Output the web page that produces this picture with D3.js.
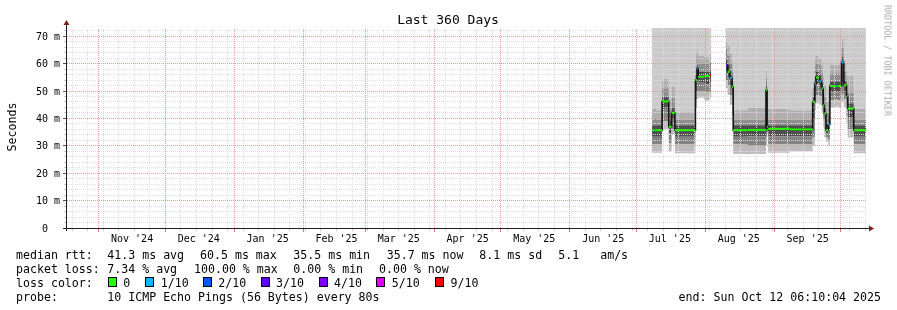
<!DOCTYPE html>
<html>
<head>
<meta charset="utf-8">
<script src="https://cdn.jsdelivr.net/npm/d3@7"></script>
<style>
  body { margin: 0; background: #fff; }
  svg { display: block; font-family: "DejaVu Sans Mono", monospace; }
  text { white-space: pre; }
</style>
</head>
<body>
<svg id="chart" width="897" height="310"></svg>
<script>
// ---- data ----
const titleText = "Last 360 Days";
const yAxisTitle = "Seconds";
const startStr = "2024-10-17T06:10";
const endStr = "2025-10-12T06:10";

const yTickValues = [0, 10, 20, 30, 40, 50, 60, 70];
const yTickLabels = ["0", "10 m", "20 m", "30 m", "40 m", "50 m", "60 m", "70 m"];
const monthLabels = ["Nov '24", "Dec '24", "Jan '25", "Feb '25", "Mar '25", "Apr '25",
                     "May '25", "Jun '25", "Jul '25", "Aug '25", "Sep '25"];

// step start times; each value holds until the next time
const smokeDates = [
  "2025-07-08T00:00", "2025-07-09T06:00", "2025-07-09T18:00", "2025-07-12T12:00",
  "2025-07-15T12:00", "2025-07-16T18:00", "2025-07-18T06:00", "2025-07-27T12:00",
  "2025-07-28T06:00", "2025-07-28T18:00", "2025-07-31T12:00", "2025-08-03T00:00",
  "2025-08-03T12:00", "2025-08-10T06:00", "2025-08-11T00:00", "2025-08-12T00:00",
  "2025-08-13T00:00", "2025-08-13T12:00", "2025-08-20T00:00", "2025-08-28T06:00",
  "2025-08-28T18:00", "2025-08-29T06:00", "2025-09-08T00:00", "2025-09-18T06:00",
  "2025-09-19T06:00", "2025-09-19T18:00", "2025-09-21T06:00", "2025-09-22T06:00",
  "2025-09-23T00:00", "2025-09-23T12:00", "2025-09-24T06:00", "2025-09-25T06:00",
  "2025-09-26T00:00", "2025-09-29T00:00", "2025-09-29T12:00", "2025-10-01T06:00",
  "2025-10-02T06:00", "2025-10-03T12:00", "2025-10-04T00:00", "2025-10-06T18:00",
  "2025-10-12T06:10"
];
// median rtt in ms (null = no data)
const median = [
  35.7, 35.5, 35.7, 46.2, 37.0, 42.0, 35.7, 54.0,
  58.3, 55.2, 55.5, 55.8, null, 59.5, 57.0, 54.8,
  51.5, 35.7, 35.8, 50.3, 37.0, 36.2, 36.0, 46.0,
  52.7, 54.9, 53.6, 50.9, 44.8, 41.8, 35.7, 37.8,
  51.8, 52.0, 51.8, 60.5, 52.1, 48.1, 43.6, 35.7,
  35.7
];
// loss class index into lossColors
const lossIdx = [
  0, 1, 0, 0, 0, 0, 0, 0,
  1, 0, 0, 6, 0, 3, 0, 1,
  0, 0, 0, 0, 0, 0, 0, 0,
  1, 0, 1, 0, 0, 0, 0, 1,
  0, 1, 0, 1, 0, 0, 0, 0,
  0
];
// smoke levels (ms), lowest to highest
const smoke0 = [
  27.5, 27.5, 27.5, 36.0, 28.0, 34.0, 27.3, 44.0,
  47.0, 47.5, 46.5, 47.5, null, 51.0, 48.5, 45.0,
  41.0, 27.0, 27.0, 30.0, 34.5, 27.5, 28.0, 30.0,
  43.0, 45.5, 45.0, 42.0, 37.0, 33.0, 31.5, 30.0,
  44.0, 44.5, 44.0, 46.0, 44.0, 38.0, 33.0, 27.3,
  27.3
];
const smoke1 = [
  30.5, 30.5, 30.5, 39.0, 31.0, 36.0, 30.5, 47.0,
  50.0, 50.0, 49.5, 50.0, null, 54.0, 52.0, 48.5,
  45.0, 30.5, 30.0, 33.0, 35.0, 30.5, 30.5, 33.0,
  46.5, 48.5, 48.0, 45.0, 40.0, 36.0, 33.0, 32.0,
  46.5, 47.0, 46.5, 49.0, 47.0, 41.0, 36.0, 30.5,
  30.5
];
const smoke2 = [
  33.3, 33.3, 33.3, 43.5, 34.5, 39.5, 33.3, 50.0,
  54.0, 53.0, 52.5, 53.0, null, 57.0, 55.0, 52.0,
  49.0, 33.3, 33.5, 36.5, 35.5, 33.5, 33.5, 40.0,
  50.5, 52.5, 51.5, 48.5, 43.0, 39.5, 34.5, 35.5,
  49.5, 50.0, 49.5, 53.0, 50.0, 45.0, 40.5, 33.3,
  33.3
];
const smoke3 = [
  37.5, 37.5, 37.5, 48.0, 39.0, 44.0, 37.5, 56.0,
  59.5, 57.0, 57.0, 57.5, null, 61.5, 59.5, 56.5,
  53.5, 37.5, 37.5, 52.0, 38.5, 37.5, 37.5, 48.0,
  55.5, 57.0, 56.0, 53.0, 47.0, 44.0, 38.0, 41.5,
  53.5, 54.0, 53.5, 62.5, 54.0, 49.5, 45.5, 37.5,
  37.5
];
const smoke4 = [
  39.5, 40.0, 39.5, 51.0, 43.0, 47.5, 39.5, 59.0,
  62.5, 60.0, 60.0, 60.5, null, 65.0, 63.0, 60.0,
  57.0, 39.5, 39.5, 54.5, 42.0, 39.5, 39.5, 51.0,
  59.0, 60.0, 59.5, 56.5, 51.0, 48.0, 42.0, 46.0,
  56.5, 57.0, 56.5, 66.0, 57.0, 53.0, 49.5, 39.5,
  39.5
];
const smoke5 = [
  43.5, 44.0, 43.0, 54.5, 47.0, 51.5, 42.5, 64.0,
  65.5, 63.0, 62.5, 63.5, null, 68.0, 66.5, 63.5,
  60.5, 43.0, 44.0, 57.5, 45.0, 43.5, 43.0, 54.0,
  62.5, 63.0, 62.0, 59.5, 55.0, 52.0, 46.0, 51.0,
  59.5, 59.0, 59.5, 69.0, 60.0, 56.5, 55.5, 43.5,
  43.5
];

const rttLegend = ["median rtt:", "41.3 ms avg", "60.5 ms max", "35.5 ms min", "35.7 ms now", "8.1 ms sd", "5.1   am/s"];
const lossLegend = ["packet loss:", "7.34 % avg", "100.00 % max", "0.00 % min", "0.00 % now"];
const lossLabels = ["0", "1/10", "2/10", "3/10", "4/10", "5/10", "9/10"];
const lossColors = ["#26ff00", "#00b8ff", "#0059ff", "#5e00ff", "#7e00ff", "#dd00ff", "#ff0000"];
const probeText = "10 ICMP Echo Pings (56 Bytes) every 80s";
const endText = "end: Sun Oct 12 06:10:04 2025";

// ---- setup ----
const svg = d3.select("#chart");
svg.append("rect").attr("width", 897).attr("height", 310).attr("fill", "#fff");

const parse = d3.utcParse("%Y-%m-%dT%H:%M");
const startTime = parse(startStr);
const endTime = parse(endStr);

const plotTop = 28, plotBottom = 228, plotLeft = 66, plotRight = 866;
const x = d3.scaleUtc().domain([startTime, endTime]).range([plotLeft, plotRight]);
const y = d3.scaleLinear().domain([0, 73]).range([plotBottom, plotTop]);
const px = v => Math.floor(v) + 0.5;

const pts = smokeDates.map((d, i) => ({
  t: parse(d), m: median[i], loss: lossIdx[i],
  s0: smoke0[i], s1: smoke1[i], s2: smoke2[i], s3: smoke3[i], s4: smoke4[i], s5: smoke5[i]
}));

// expand into steps (rrdtool draws flat per consolidation step)
const steps = [];
for (let i = 0; i < pts.length - 1; i++) {
  const p = pts[i], n = pts[i + 1];
  if (p.m == null) { steps.push(null); continue; }
  steps.push(Object.assign({}, p), Object.assign({}, p, {t: n.t}));
}

svg.append("clipPath").attr("id", "plotClip")
  .append("rect").attr("x", plotLeft).attr("y", plotTop)
  .attr("width", plotRight - plotLeft).attr("height", plotBottom - plotTop);

const gSmoke = svg.append("g").attr("clip-path", "url(#plotClip)");

// smoke bands, top one runs off the chart
const bands = [
  {lo: "s5", hi: null, color: "#cbcbcb"},
  {lo: "s4", hi: "s5", color: "#afafaf"},
  {lo: "s3", hi: "s4", color: "#8e8e8e"},
  {lo: "s2", hi: "s3", color: "#4e4e4e"},
  {lo: "s1", hi: "s2", color: "#838383"},
  {lo: "s0", hi: "s1", color: "#bdbdbd"}
];
bands.forEach(b => {
  const area = d3.area()
    .defined(d => d !== null)
    .x(d => x(d.t))
    .y0(d => y(d[b.lo]))
    .y1(d => b.hi ? y(d[b.hi]) : plotTop - 2);
  gSmoke.append("path").datum(steps)
    .attr("fill", b.color)
    .attr("d", area);
});

// ---- grid: 1px dotted lines ----
const gGrid = svg.append("g").attr("shape-rendering", "crispEdges");
const minorY = d3.range(2, 73, 2).filter(v => v % 10 !== 0);
const weeks = d3.utcSunday.range(startTime, endTime);
const months = d3.utcMonth.range(d3.utcMonth.ceil(startTime), endTime);

function hDots(g, vals, color) {
  vals.forEach(v => {
    g.append("line")
      .attr("x1", plotLeft + 1).attr("x2", plotRight + 1)
      .attr("y1", px(y(v))).attr("y2", px(y(v)))
      .attr("stroke", color).attr("stroke-dasharray", "1,1");
  });
}
function vDots(g, dates, color) {
  dates.forEach(d => {
    g.append("line")
      .attr("x1", px(x(d))).attr("x2", px(x(d)))
      .attr("y1", plotBottom).attr("y2", plotTop)
      .attr("stroke", color).attr("stroke-dasharray", "1,1");
  });
}
hDots(gGrid, minorY, "#dedede");
vDots(gGrid, weeks, "#dedede");
hDots(gGrid, yTickValues.slice(1), "#f29898");
vDots(gGrid, months, "#f29898");

// ---- median line ----
const gMed = svg.append("g").attr("clip-path", "url(#plotClip)");
gMed.append("path").datum(steps)
  .attr("fill", "none").attr("stroke", "#151515").attr("stroke-width", 1.6)
  .attr("d", d3.line().defined(d => d !== null).x(d => x(d.t)).y(d => y(d.m)));

const segs = pts.slice(0, -1).map((p, i) => Object.assign({}, p, {t2: pts[i + 1].t})).filter(p => p.m != null);
gMed.selectAll("line.seg").data(segs).join("line")
  .attr("x1", d => x(d.t)).attr("x2", d => x(d.t2))
  .attr("y1", d => y(d.m)).attr("y2", d => y(d.m))
  .attr("stroke", d => lossColors[d.loss]).attr("stroke-width", 2);

// ---- axes ----
const gAxis = svg.append("g").attr("shape-rendering", "crispEdges");
gAxis.selectAll("line.wtick").data(weeks).join("line")
  .attr("x1", d => px(x(d))).attr("x2", d => px(x(d)))
  .attr("y1", plotBottom + 1).attr("y2", plotBottom + 3)
  .attr("stroke", "#cccccc");
gAxis.selectAll("line.mtick").data(months).join("line")
  .attr("x1", d => px(x(d))).attr("x2", d => px(x(d)))
  .attr("y1", plotBottom + 1).attr("y2", plotBottom + 4)
  .attr("stroke", "#e87070");
gAxis.selectAll("line.ytm").data(minorY).join("line")
  .attr("x1", plotLeft - 2).attr("x2", plotLeft)
  .attr("y1", d => px(y(d))).attr("y2", d => px(y(d)))
  .attr("stroke", "#cccccc");
gAxis.selectAll("line.ytM").data(yTickValues).join("line")
  .attr("x1", plotLeft - 3).attr("x2", plotLeft)
  .attr("y1", d => px(y(d))).attr("y2", d => px(y(d)))
  .attr("stroke", "#555");

gAxis.append("line")
  .attr("x1", plotLeft - 3).attr("x2", plotRight + 4)
  .attr("y1", plotBottom + 0.5).attr("y2", plotBottom + 0.5)
  .attr("stroke", "#1f1f1f");
gAxis.append("line")
  .attr("x1", plotLeft + 0.5).attr("x2", plotLeft + 0.5)
  .attr("y1", plotBottom + 3).attr("y2", plotTop - 4)
  .attr("stroke", "#1f1f1f");
svg.append("path")
  .attr("d", `M${plotRight + 3},${plotBottom - 2.5}L${plotRight + 8},${plotBottom + 0.5}L${plotRight + 3},${plotBottom + 3.5}Z`)
  .attr("fill", "#801f1f");
svg.append("path")
  .attr("d", `M${plotLeft - 2.5},${plotTop - 3}L${plotLeft + 0.5},${plotTop - 8}L${plotLeft + 3.5},${plotTop - 3}Z`)
  .attr("fill", "#801f1f");

// ---- texts (grayscale antialiasing like rrdtool) ----
const gText = svg.append("g").attr("opacity", 0.999);

gText.selectAll("text.ylab").data(yTickValues).join("text")
  .attr("x", (d, i) => i === 0 ? 48 : 60)
  .attr("y", d => y(d) + 3.5)
  .attr("text-anchor", "end")
  .attr("font-size", "10px")
  .text((d, i) => yTickLabels[i]);

// month labels centred half way through each month
const labelMonths = months.slice(0, monthLabels.length);
gText.selectAll("text.xlab").data(labelMonths).join("text")
  .attr("x", d => x(d3.utcDay.offset(d, 15)))
  .attr("y", 241.5)
  .attr("text-anchor", "middle")
  .attr("font-size", "10px")
  .text((d, i) => monthLabels[i]);

gText.append("text")
  .attr("x", 448).attr("y", 24)
  .attr("text-anchor", "middle")
  .attr("font-size", "13px")
  .text(titleText);

gText.append("text")
  .attr("transform", "translate(15.5,127) rotate(-90)")
  .attr("text-anchor", "middle")
  .attr("font-size", "11.6px")
  .text(yAxisTitle);

gText.append("text")
  .attr("transform", "translate(884.5,5) rotate(90)")
  .attr("font-size", "8.4px")
  .attr("fill", "#aaaaaa")
  .text("RRDTOOL / TOBI OETIKER");

// ---- legend ----
const legendFont = "11.6px";
const rttCols = [16, 107.3, 200, 293.3, 386.7, 479.3, 558.3];
gText.selectAll("text.rtt").data(rttLegend).join("text")
  .attr("x", (d, i) => rttCols[i]).attr("y", 258.5)
  .attr("font-size", legendFont).text(d => d);

const lossCols = [16, 107.3, 194, 293.3, 379];
gText.selectAll("text.loss").data(lossLegend).join("text")
  .attr("x", (d, i) => lossCols[i]).attr("y", 272.5)
  .attr("font-size", legendFont).text(d => d);

gText.append("text").attr("x", 16).attr("y", 286.5).attr("font-size", legendFont).text("loss color:");
const boxCols = [108.7, 145.7, 203.3, 261, 319, 376.7, 435];
const boxLabCols = [123.3, 160.7, 218.3, 276, 334, 391.7, 450.5];
svg.selectAll("rect.lbox").data(lossColors).join("rect")
  .attr("x", (d, i) => Math.floor(boxCols[i]) + 0.5).attr("y", 277.5)
  .attr("width", 8).attr("height", 9)
  .attr("fill", d => d).attr("stroke", "#000").attr("stroke-width", 1);
gText.selectAll("text.llab").data(lossLabels).join("text")
  .attr("x", (d, i) => boxLabCols[i]).attr("y", 286.5)
  .attr("font-size", legendFont).text(d => d);

gText.append("text").attr("x", 16).attr("y", 300.5).attr("font-size", legendFont).text("probe:");
gText.append("text").attr("x", 107.3).attr("y", 300.5).attr("font-size", legendFont).text(probeText);
gText.append("text").attr("x", 881).attr("y", 300.5).attr("text-anchor", "end")
  .attr("font-size", legendFont).text(endText);
</script>
</body>
</html>
